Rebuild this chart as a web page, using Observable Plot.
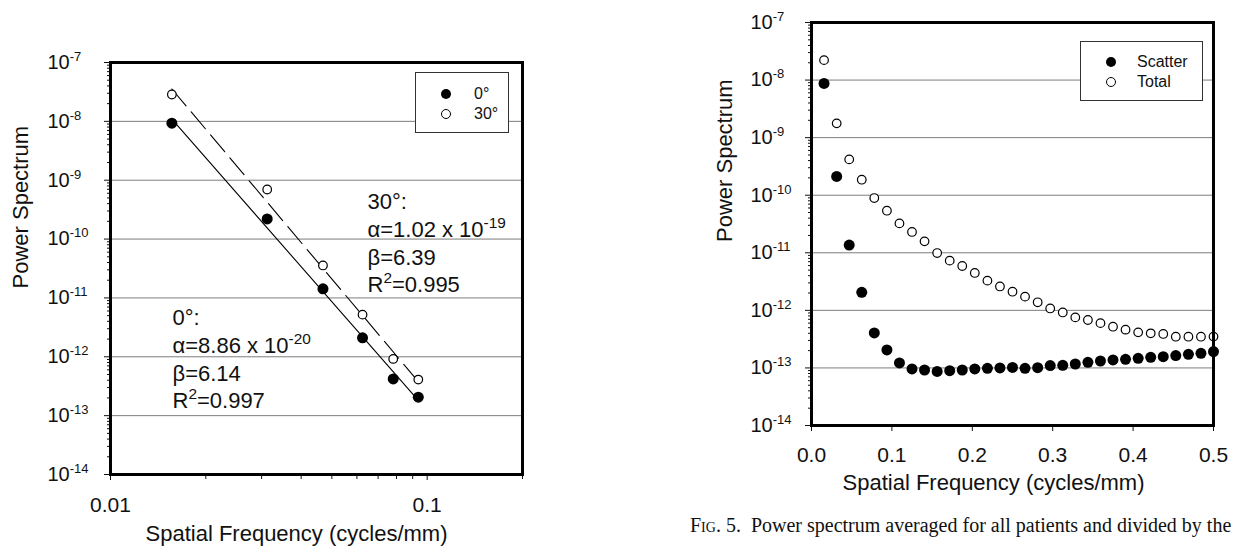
<!DOCTYPE html>
<html>
<head>
<meta charset="utf-8">
<script src="https://cdn.jsdelivr.net/npm/d3@7"></script>
<script src="https://cdn.jsdelivr.net/npm/@observablehq/plot@0.6"></script>
<style>
  html, body { margin: 0; padding: 0; background: #fff; }
  #wrap { position: relative; width: 1237px; height: 546px; overflow: hidden;
          font-family: "Liberation Sans", Arial, sans-serif; }
  #leftFig { position: absolute; left: 0; top: 0; }
  #rightFig { position: absolute; left: 680px; top: 0; }
  #caption { font-family: "Liberation Serif", "Times New Roman", serif; font-size: 20px;
             color: #111; margin: 9px 0 0 10px; white-space: nowrap; line-height: 22px; }
  .legend { position: absolute; background: #fff; border: 1px solid #333; box-sizing: border-box;
            font-size: 16px; color: #111; }
  .legend .row { position: absolute; left: 0; height: 20px; line-height: 20px; white-space: nowrap; }
  .legend .sym { position: absolute; top: 5px; width: 10px; height: 10px; border-radius: 50%;
                 box-sizing: border-box; }
  .legend .sym.filled { background: #000; }
  .legend .sym.open { background: #fff; border: 1.2px solid #000; }
  .legend .lab { position: absolute; top: 0; }
</style>
</head>
<body>
<div id="wrap">
  <div id="leftFig"></div>
  <div id="rightFig"></div>
</div>
<script>
// ---- Left panel: power spectrum at two projection angles (log-log) ----
const freqAngle = [0.015625, 0.03125, 0.046875, 0.0625, 0.078125, 0.09375];
const power0deg = [9.3e-9, 2.2e-10, 1.43e-11, 2.1e-12, 4.2e-13, 2.06e-13];
const power30deg = [2.86e-8, 6.95e-10, 3.56e-11, 5.2e-12, 9.2e-13, 4.1e-13];
const angleNames = ["0°", "30°"];
// power-law fits P = alpha * f^(-beta)
const fitAlpha = [8.86e-20, 1.02e-19];
const fitBeta = [6.14, 6.39];
const fitR2 = [0.997, 0.995];

// ---- Right panel: scatter vs total power spectrum ----
const freqAll = [0.0156, 0.0313, 0.0469, 0.0625, 0.0781, 0.0938, 0.1094, 0.125,
                 0.1406, 0.1563, 0.1719, 0.1875, 0.2031, 0.2188, 0.2344, 0.25,
                 0.2656, 0.2813, 0.2969, 0.3125, 0.3281, 0.3438, 0.3594, 0.375,
                 0.3906, 0.4063, 0.4219, 0.4375, 0.4531, 0.4688, 0.4844, 0.5];
const powerScatter = [8.73e-9, 2.12e-10, 1.36e-11, 2.06e-12, 4.05e-13, 2.05e-13, 1.22e-13, 9.6e-14,
                      9.2e-14, 8.7e-14, 8.97e-14, 9.2e-14, 9.6e-14, 9.85e-14, 1.0e-13, 1.02e-13,
                      9.85e-14, 1.01e-13, 1.1e-13, 1.11e-13, 1.17e-13, 1.25e-13, 1.32e-13, 1.38e-13,
                      1.41e-13, 1.47e-13, 1.53e-13, 1.57e-13, 1.64e-13, 1.72e-13, 1.79e-13, 1.92e-13];
const powerTotal = [2.22e-8, 1.77e-9, 4.19e-10, 1.86e-10, 8.93e-11, 5.38e-11, 3.24e-11, 2.3e-11,
                    1.58e-11, 9.9e-12, 7.3e-12, 5.9e-12, 4.46e-12, 3.28e-12, 2.6e-12, 2.11e-12,
                    1.73e-12, 1.38e-12, 1.08e-12, 9.2e-13, 7.55e-13, 6.8e-13, 6.0e-13, 5.2e-13,
                    4.62e-13, 4.15e-13, 3.99e-13, 3.89e-13, 3.49e-13, 3.49e-13, 3.49e-13, 3.5e-13];
const seriesNames = ["Scatter", "Total"];

// ---- Axis ticks ----
const yDecades = [1e-14, 1e-13, 1e-12, 1e-11, 1e-10, 1e-9, 1e-8, 1e-7];
const yGrid = [1e-13, 1e-12, 1e-11, 1e-10, 1e-9, 1e-8];
const xLogTicks = [0.01, 0.1];
const xLogLabels = ["0.01", "0.1"];
const xLinTicks = [0, 0.1, 0.2, 0.3, 0.4, 0.5];
const xLinLabels = ["0.0", "0.1", "0.2", "0.3", "0.4", "0.5"];

const FONT = '"Liberation Sans", Arial, sans-serif';
const GRID = "#7d7d7d";

// minor log ticks (2..9 within each decade)
function minorLog(lo, hi) {
  const out = [];
  for (let d = lo; d < hi * 0.999; d *= 10)
    for (let k = 2; k <= 9; k++) if (k * d <= hi * 1.0001) out.push(k * d);
  return out;
}
const yMinor = minorLog(1e-14, 1e-7);
const xMinorLog = minorLog(0.01, 0.2);

const expLabel = d => `10^{${Math.round(Math.log10(d))}}`;

function sci(v) {
  const e = Math.floor(Math.log10(v));
  return `${(v / 10 ** e).toFixed(2)} x 10^{${e}}`;
}
const fitText = i =>
  `${angleNames[i]}:\nα=${sci(fitAlpha[i])}\nβ=${fitBeta[i].toFixed(2)}\nR^{2}=${fitR2[i].toFixed(3)}`;

// Turn "a^{b}c" markup in SVG text into raised tspans
function superscripts(root, size, shift) {
  root.querySelectorAll("text, tspan").forEach(el => {
    if (el.childNodes.length !== 1 || el.firstChild.nodeType !== 3) return;
    const s = el.textContent;
    if (!s.includes("^{")) return;
    el.textContent = "";
    s.split(/\^\{([^}]*)\}/).forEach((p, i) => {
      if (!p) return;
      if (i % 2 === 0) el.appendChild(document.createTextNode(p));
      else {
        const t = document.createElementNS("http://www.w3.org/2000/svg", "tspan");
        t.setAttribute("font-size", size);
        t.setAttribute("baseline-shift", shift);
        t.textContent = p;
        el.appendChild(t);
      }
    });
  });
}
function styleLabels(svg) {
  svg.querySelectorAll('[aria-label="y-axis tick label"]').forEach(g => superscripts(g, "0.65em", "0.6em"));
  superscripts(svg, "0.7em", "0.6em");
}

// log axis: minor ticks, major ticks, then "10^n" labels left-aligned
const logAxisY = labelDx => [
  Plot.axisY(yMinor, {tickSize: 3, tickFormat: () => "", label: null}),
  Plot.axisY(yDecades, {tickSize: 6, tickFormat: () => "", label: null}),
  Plot.axisY(yDecades, {tickSize: 0, tickPadding: 6, textAnchor: "start", dx: labelDx,
                        fontSize: 20, tickFormat: expLabel, label: null})
];

// ---------- left chart ----------
const pts0 = freqAngle.map((f, i) => ({f, p: power0deg[i]}));
const pts30 = freqAngle.map((f, i) => ({f, p: power30deg[i]}));
const fitLine = i => [freqAngle[0], freqAngle[freqAngle.length - 1]]
  .map(f => ({f, p: fitAlpha[i] * Math.pow(f, -fitBeta[i])}));

const leftPlot = Plot.plot({
  width: 560, height: 546,
  marginLeft: 110, marginRight: 38, marginTop: 62, marginBottom: 72,
  style: {fontFamily: FONT, background: "transparent", color: "#111", overflow: "visible"},
  x: {type: "log", domain: [0.01, 0.2]},
  y: {type: "log", domain: [1e-14, 1e-7]},
  marks: [
    Plot.ruleY(yGrid, {stroke: GRID, strokeWidth: 1}),
    ...logAxisY(-57),
    Plot.axisX(xMinorLog, {tickSize: 5, tickFormat: () => "", label: null}),
    Plot.axisX(xLogTicks, {tickSize: 6, tickPadding: 17, fontSize: 21,
                           tickFormat: d => xLogLabels[xLogTicks.indexOf(d)], label: null}),
    Plot.line(fitLine(0), {x: "f", y: "p", stroke: "#000", strokeWidth: 1.1}),
    Plot.line(fitLine(1), {x: "f", y: "p", stroke: "#000", strokeWidth: 1.1, strokeDasharray: "22,8"}),
    Plot.dot(pts0, {x: "f", y: "p", r: 5.5, fill: "#000"}),
    Plot.dot(pts30, {x: "f", y: "p", r: 4.3, fill: "#fff", stroke: "#000", strokeWidth: 1.2}),
    Plot.frame({stroke: "#000", strokeWidth: 3}),
    Plot.text([fitText(1)], {text: d => d, frameAnchor: "top-left", dx: 257, dy: 127,
                             lineAnchor: "top", textAnchor: "start", lineHeight: 1.26,
                             fontSize: 22, fill: "#111"}),
    Plot.text([fitText(0)], {text: d => d, frameAnchor: "top-left", dx: 62, dy: 243,
                             lineAnchor: "top", textAnchor: "start", lineHeight: 1.26,
                             fontSize: 22, fill: "#111"}),
    Plot.text(["Power Spectrum"], {text: d => d, frameAnchor: "left", rotate: -90, dx: -90, dy: 20,
                                   fontSize: 22, fill: "#111"}),
    Plot.text(["Spatial Frequency (cycles/mm)"], {text: d => d, frameAnchor: "bottom", dx: -20, dy: 66,
                                                  fontSize: 22, fill: "#111"})
  ]
});
styleLabels(leftPlot);
document.getElementById("leftFig").appendChild(leftPlot);

// ---------- right chart ----------
const ptsScatter = freqAll.map((f, i) => ({f, p: powerScatter[i]}));
const ptsTotal = freqAll.map((f, i) => ({f, p: powerTotal[i]}));

const rightPlot = Plot.plot({
  width: 557, height: 505,
  marginLeft: 131, marginRight: 24, marginTop: 22, marginBottom: 80,
  style: {fontFamily: FONT, background: "transparent", color: "#111", overflow: "visible"},
  x: {type: "linear", domain: [0, 0.5]},
  y: {type: "log", domain: [1e-14, 1e-7]},
  marks: [
    Plot.ruleY(yGrid, {stroke: GRID, strokeWidth: 1}),
    ...logAxisY(-55),
    Plot.axisX(xLinTicks, {tickSize: 6, tickPadding: 16, fontSize: 21,
                           tickFormat: d => xLinLabels[xLinTicks.indexOf(d)], label: null}),
    Plot.dot(ptsTotal, {x: "f", y: "p", r: 4.3, fill: "#fff", stroke: "#000", strokeWidth: 1.2}),
    Plot.dot(ptsScatter, {x: "f", y: "p", r: 5.5, fill: "#000"}),
    Plot.frame({stroke: "#000", strokeWidth: 3}),
    Plot.text(["Power Spectrum"], {text: d => d, frameAnchor: "left", rotate: -90, dx: -87, dy: 18,
                                   fontSize: 22, fill: "#111"}),
    Plot.text(["Spatial Frequency (cycles/mm)"], {text: d => d, frameAnchor: "bottom", dx: -19, dy: 64,
                                                  fontSize: 22, fill: "#111"})
  ]
});
styleLabels(rightPlot);
const rightFig = document.getElementById("rightFig");
rightFig.appendChild(rightPlot);

const caption = document.createElement("div");
caption.id = "caption";
caption.innerHTML = '<span style="font-variant:small-caps">Fig. 5.</span>&nbsp; Power spectrum averaged for all patients and divided by the';
rightFig.appendChild(caption);

// ---------- legends ----------
function legend(parent, names, box) {
  const el = document.createElement("div");
  el.className = "legend";
  Object.assign(el.style, {left: box.left + "px", top: box.top + "px",
                           width: box.width + "px", height: box.height + "px"});
  names.forEach((name, i) => {
    const row = document.createElement("div");
    row.className = "row";
    row.style.top = (box.rowTop + i * 20) + "px";
    row.style.width = box.width + "px";
    row.innerHTML = `<span class="sym ${i === 0 ? "filled" : "open"}" style="left:${box.symX - 5}px"></span>` +
                    `<span class="lab" style="left:${box.textX}px">${name}</span>`;
    el.appendChild(row);
  });
  parent.appendChild(el);
}
const wrap = document.getElementById("wrap");
legend(wrap, angleNames, {left: 415, top: 72, width: 94, height: 61, rowTop: 11, symX: 30, textX: 58});
legend(wrap, seriesNames, {left: 1080, top: 41, width: 123, height: 60, rowTop: 10, symX: 30, textX: 56});
</script>
</body>
</html>
